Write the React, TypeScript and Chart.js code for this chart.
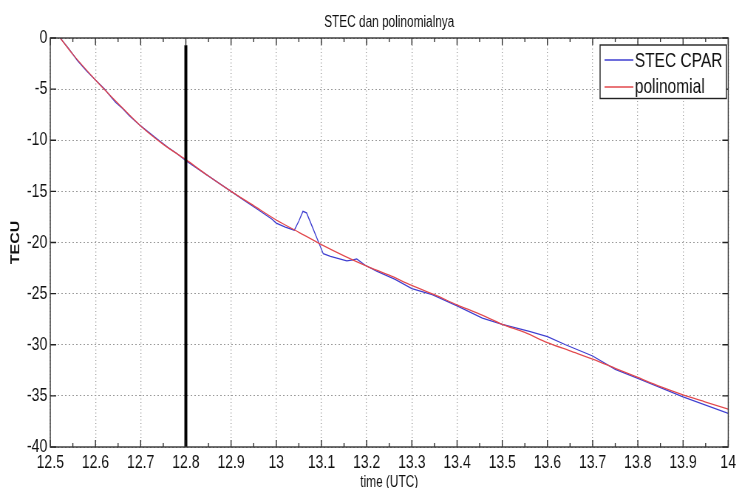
import { useEffect, useRef } from "react";
import { Chart, registerables } from "chart.js";

Chart.register(...registerables);

// Measured STEC for station CPAR (hours UTC, TECU)
const stecTimes = [
  12.522, 12.54, 12.56, 12.58, 12.6, 12.62, 12.635, 12.645, 12.66, 12.675,
  12.7, 12.72, 12.74, 12.76, 12.78, 12.8, 12.83, 12.86, 12.9, 12.93,
  12.96, 12.99, 13.0, 13.02, 13.04, 13.05, 13.059, 13.067, 13.08, 13.093,
  13.104, 13.12, 13.14, 13.156, 13.17, 13.178, 13.196, 13.222, 13.263, 13.3,
  13.345, 13.4, 13.456, 13.5, 13.56, 13.6, 13.64, 13.7, 13.75, 13.8,
  13.85, 13.9, 13.95, 14.0,
];
const stecValues = [
  0, -1.0, -2.2, -3.2, -4.1, -5.0, -5.8, -6.3, -6.9, -7.6,
  -8.6, -9.3, -10.0, -10.7, -11.3, -12.0, -12.9, -13.8, -15.0, -15.9,
  -16.8, -17.7, -18.1, -18.5, -18.8, -17.9, -16.95, -17.1, -18.5, -19.9,
  -21.1, -21.35, -21.6, -21.8, -21.7, -21.6, -22.2, -22.8, -23.6, -24.5,
  -25.1, -26.2, -27.4, -28.0, -28.7, -29.2, -30.0, -31.1, -32.4, -33.3,
  -34.2, -35.1, -35.9, -36.7,
];

// Fitted polynomial trend
const polyTimes = [
  12.522, 12.55, 12.6, 12.65, 12.7, 12.75, 12.8, 12.85, 12.9, 12.95,
  13.0, 13.05, 13.1, 13.15, 13.2, 13.25, 13.3, 13.35, 13.4, 13.45,
  13.5, 13.55, 13.6, 13.65, 13.7, 13.75, 13.8, 13.85, 13.9, 13.95, 14.0,
];
const polyValues = [
  0, -1.6, -4.1, -6.4, -8.6, -10.4, -11.9, -13.5, -15.0, -16.4,
  -17.8, -19.0, -20.2, -21.3, -22.3, -23.2, -24.2, -25.1, -26.1, -27.0,
  -28.0, -28.8, -29.8, -30.6, -31.4, -32.3, -33.2, -34.1, -34.9, -35.6, -36.3,
];

// Vertical marker at 12.8 UTC
const markerTime = 12.8;
const markerTop = -0.7;
const markerBottom = -40;

const xTickValues = [12.5, 12.6, 12.7, 12.8, 12.9, 13.0, 13.1, 13.2, 13.3, 13.4, 13.5, 13.6, 13.7, 13.8, 13.9, 14.0];
const xTickLabels = ["12.5", "12.6", "12.7", "12.8", "12.9", "13", "13.1", "13.2", "13.3", "13.4", "13.5", "13.6", "13.7", "13.8", "13.9", "14"];
const yTickValues = [-40, -35, -30, -25, -20, -15, -10, -5, 0];
const yTickLabels = ["-40", "-35", "-30", "-25", "-20", "-15", "-10", "-5", "0"];

const titleText = "STEC dan polinomialnya";
const xTitleText = "time (UTC)";
const yTitleText = "TECU";
const seriesNames = ["STEC CPAR", "polinomial"];

const BLUE = "#3e3ed0";
const RED = "#e2484c";
const FONT = "'Liberation Sans', Arial, sans-serif";

// Internal drawing width; the canvas is shown narrower than it is drawn.
const DRAW_W = 1000;
const DRAW_H = 488;
const SHOW_W = 739;

const decorations = {
  id: "decorations",
  afterDraw(chart: any) {
    const { ctx, chartArea: a, scales } = chart;
    const xs = scales.x;
    const ys = scales.y;
    ctx.save();

    // inward tick marks on all four sides
    ctx.strokeStyle = "#222";
    ctx.lineWidth = 1.3;
    ctx.beginPath();
    xTickValues.forEach((v, i) => {
      const px = xs.getPixelForValue(v);
      ctx.moveTo(px, a.bottom);
      ctx.lineTo(px, a.bottom - 7);
      ctx.moveTo(px, a.top);
      ctx.lineTo(px, a.top + 7);
      if (i < xTickValues.length - 1) {
        const pm = xs.getPixelForValue((v + xTickValues[i + 1]) / 2);
        ctx.moveTo(pm, a.bottom);
        ctx.lineTo(pm, a.bottom - 4);
        ctx.moveTo(pm, a.top);
        ctx.lineTo(pm, a.top + 4);
      }
    });
    yTickValues.forEach((v) => {
      const py = ys.getPixelForValue(v);
      ctx.moveTo(a.left, py);
      ctx.lineTo(a.left + 8, py);
      ctx.moveTo(a.right, py);
      ctx.lineTo(a.right - 8, py);
    });
    ctx.stroke();

    // axes box
    ctx.strokeStyle = "#333";
    ctx.lineWidth = 1.4;
    ctx.strokeRect(a.left, a.top, a.right - a.left, a.bottom - a.top);

    // title
    ctx.fillStyle = "#111";
    ctx.textAlign = "center";
    ctx.textBaseline = "alphabetic";
    ctx.font = `16px ${FONT}`;
    ctx.fillText(titleText, (a.left + a.right) / 2, 26.5);

    // x axis title
    ctx.font = `16px ${FONT}`;
    ctx.fillText(xTitleText, (a.left + a.right) / 2, 486.5);

    // y axis title
    ctx.save();
    ctx.translate(26, (a.top + a.bottom) / 2);
    ctx.rotate(-Math.PI / 2);
    ctx.font = `bold 16px ${FONT}`;
    ctx.fillText(yTitleText, 0, 0);
    ctx.restore();

    // legend box
    const lx0 = 812;
    const lx1 = 983;
    const ly0 = 45;
    const ly1 = 98.5;
    ctx.fillStyle = "#fff";
    ctx.fillRect(lx0, ly0, lx1 - lx0, ly1 - ly0);
    ctx.strokeStyle = "#222";
    ctx.lineWidth = 1.4;
    ctx.strokeRect(lx0, ly0, lx1 - lx0, ly1 - ly0);
    const rows = [
      { color: BLUE, lineY: 60, baseY: 66.7 },
      { color: RED, lineY: 87, baseY: 93 },
    ];
    ctx.font = `21px ${FONT}`;
    ctx.textAlign = "left";
    rows.forEach((r, i) => {
      ctx.strokeStyle = r.color;
      ctx.lineWidth = 1.4;
      ctx.beginPath();
      ctx.moveTo(818, r.lineY);
      ctx.lineTo(857, r.lineY);
      ctx.stroke();
      ctx.fillStyle = "#111";
      ctx.fillText(seriesNames[i], 859, r.baseY);
    });

    ctx.restore();
  },
};

export default function App() {
  const canvasRef = useRef<HTMLCanvasElement | null>(null);

  useEffect(() => {
    const canvas = canvasRef.current;
    if (!canvas) return;

    const stecPoints = stecTimes.map((t, i) => ({ x: t, y: stecValues[i] }));
    const polyPoints = polyTimes.map((t, i) => ({ x: t, y: polyValues[i] }));
    const markerPoints = [
      { x: markerTime, y: markerTop },
      { x: markerTime, y: markerBottom },
    ];

    const chart = new Chart(canvas, {
      type: "line",
      data: {
        datasets: [
          {
            label: seriesNames[0],
            data: stecPoints,
            borderColor: BLUE,
            borderWidth: 1.3,
            pointRadius: 0,
            tension: 0,
            order: 2,
          },
          {
            label: seriesNames[1],
            data: polyPoints,
            borderColor: RED,
            borderWidth: 1.3,
            pointRadius: 0,
            cubicInterpolationMode: "monotone",
            order: 1,
          },
          {
            label: "marker",
            data: markerPoints,
            borderColor: "#000",
            borderWidth: 4,
            pointRadius: 0,
            order: 0,
          },
        ],
      },
      options: {
        animation: false,
        responsive: false,
        devicePixelRatio: 1,
        layout: { padding: { top: 38, right: 13, left: 0, bottom: 0 } },
        plugins: {
          legend: { display: false },
          title: { display: false },
          tooltip: { enabled: false },
        },
        scales: {
          x: {
            type: "linear",
            min: 12.5,
            max: 14,
            afterBuildTicks: (scale: any) => {
              scale.ticks = xTickValues.map((v) => ({ value: v }));
            },
            afterFit: (scale: any) => {
              scale.height = 41;
            },
            ticks: {
              autoSkip: false,
              maxRotation: 0,
              padding: 4,
              color: "#111",
              font: { family: FONT, size: 19 },
              callback: (_v: any, i: number) => xTickLabels[i],
            },
            grid: {
              drawTicks: false,
              color: "#9a9a9a",
              lineWidth: 1.3,
            },
            border: { display: false, dash: [1, 2.5] },
          },
          y: {
            type: "linear",
            min: -40,
            max: 0,
            afterBuildTicks: (scale: any) => {
              scale.ticks = yTickValues.map((v) => ({ value: v }));
            },
            afterFit: (scale: any) => {
              scale.width = 68;
            },
            ticks: {
              autoSkip: false,
              padding: 4,
              color: "#111",
              font: { family: FONT, size: 19 },
              callback: (_v: any, i: number) => yTickLabels[i],
            },
            grid: {
              drawTicks: false,
              color: "#9a9a9a",
              lineWidth: 1,
            },
            border: { display: false, dash: [2, 3] },
          },
        },
      },
      plugins: [decorations],
    });

    return () => chart.destroy();
  }, []);

  return (
    <div style={{ position: "fixed", left: 0, top: 0, width: SHOW_W, height: DRAW_H, background: "#fff" }}>
      <canvas
        ref={canvasRef}
        width={DRAW_W}
        height={DRAW_H}
        style={{ display: "block", width: `${SHOW_W}px`, height: `${DRAW_H}px` }}
      />
    </div>
  );
}
